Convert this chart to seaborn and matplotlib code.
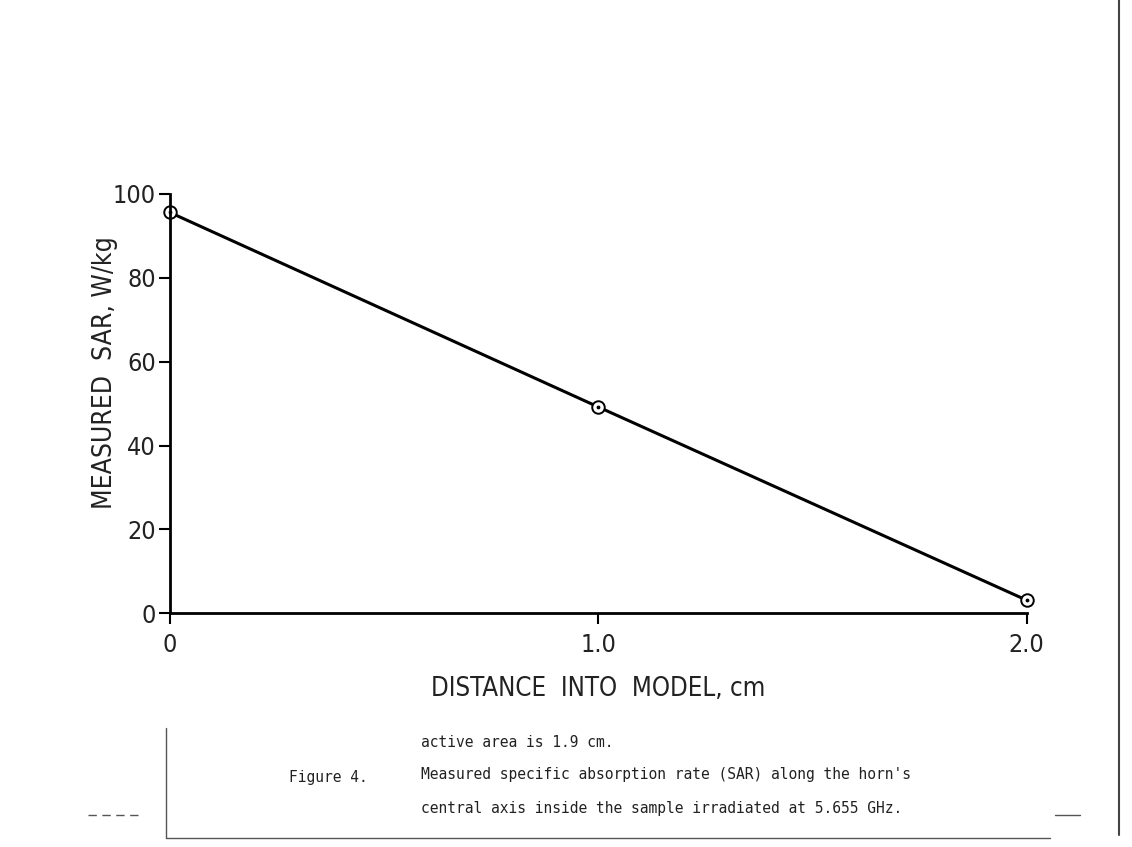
import matplotlib
matplotlib.use("Agg")
import matplotlib.pyplot as plt
import seaborn as sns
import pandas as pd

# Dados
distancia = [0.0, 1.0, 2.0]
sar = [95.6, 49.2, 3.1]
xticks = [0, 1.0, 2.0]
xtick_labels = ["0", "1.0", "2.0"]
yticks = [0, 20, 40, 60, 80, 100]

df = pd.DataFrame({"distancia": distancia, "sar": sar})

sns.set_theme(style="white")
plt.rcParams["font.family"] = ["DejaVu Sans"]
plt.rcParams["font.stretch"] = "condensed"

fig = plt.figure(figsize=(11.32, 8.47), dpi=100)
ax = fig.add_axes([0.150, 0.276, 0.757, 0.495])

sns.lineplot(data=df, x="distancia", y="sar", ax=ax, color="black", linewidth=2.2,
             marker="o", markersize=9, markerfacecolor="white",
             markeredgecolor="black", markeredgewidth=1.4, clip_on=False)
# ponto central dos marcadores
ax.scatter(df["distancia"], df["sar"], s=3, color="black", zorder=5, clip_on=False)

ax.set_xlim(0, 2.0)
ax.set_ylim(0, 100)
ax.set_xticks(xticks)
ax.set_xticklabels(xtick_labels)
ax.set_yticks(yticks)
ax.tick_params(axis="both", direction="out", length=8, width=1.5, color="black",
               labelsize=18, labelcolor="#222222", bottom=True, left=True)
ax.tick_params(axis="x", pad=6)
ax.tick_params(axis="y", pad=2)

for lado in ["top", "right"]:
    ax.spines[lado].set_visible(False)
for lado in ["left", "bottom"]:
    ax.spines[lado].set_linewidth(2)
    ax.spines[lado].set_color("black")

ax.set_xlabel("DISTANCE  INTO  MODEL, cm", fontsize=18.5, color="#222222", labelpad=14)
ax.set_ylabel("MEASURED  SAR, W/kg", fontsize=19, color="#222222")
ax.yaxis.set_label_coords(-0.06, 0.575)

# Legenda da figura (texto datilografado)
mono = ["DejaVu Sans Mono"]
fig.text(0.372, 1 - 742 / 847, "active area is 1.9 cm.", fontsize=10.5, family=mono,
         color="#222222", va="center")
fig.text(0.255, 1 - 777 / 847, "Figure 4.", fontsize=10.5, family=mono,
         color="#222222", va="center")
fig.text(0.372, 1 - 774 / 847, "Measured specific absorption rate (SAR) along the horn's",
         fontsize=10.5, family=mono, color="#222222", va="center")
fig.text(0.372, 1 - 808 / 847, "central axis inside the sample irradiated at 5.655 GHz.",
         fontsize=10.5, family=mono, color="#222222", va="center")

# Moldura da legenda e bordas da folha escaneada
fig.add_artist(plt.Line2D([166 / 1132, 166 / 1132], [1 - 728 / 847, 1 - 838 / 847],
                          transform=fig.transFigure, color="#555555", lw=1))
fig.add_artist(plt.Line2D([166 / 1132, 1050 / 1132], [1 - 838 / 847, 1 - 838 / 847],
                          transform=fig.transFigure, color="#555555", lw=1))
fig.add_artist(plt.Line2D([88 / 1132, 140 / 1132], [1 - 815 / 847, 1 - 815 / 847],
                          transform=fig.transFigure, color="#555555", lw=1, ls=(0, (6, 4))))
fig.add_artist(plt.Line2D([1055 / 1132, 1080 / 1132], [1 - 815 / 847, 1 - 815 / 847],
                          transform=fig.transFigure, color="#555555", lw=1))
fig.add_artist(plt.Line2D([1119 / 1132, 1119 / 1132], [1.0, 1 - 835 / 847],
                          transform=fig.transFigure, color="#444444", lw=1.5))

fig.savefig("out.png", dpi=100)
